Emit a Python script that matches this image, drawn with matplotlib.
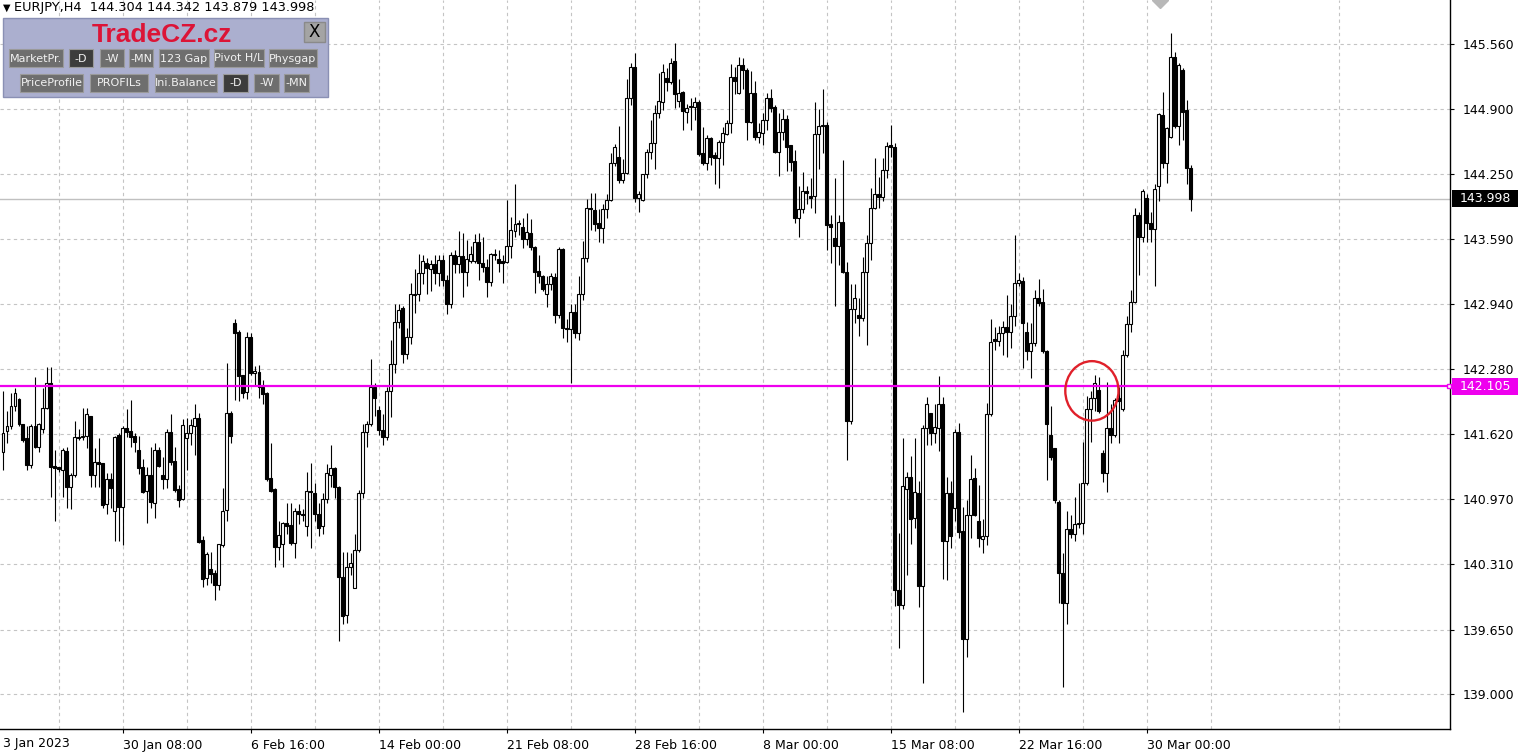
import numpy as np
import matplotlib
matplotlib.use("Agg")
import matplotlib.pyplot as plt
import matplotlib.transforms as mtransforms
from matplotlib.patches import Rectangle, Ellipse

# EURJPY H4 bars, oldest first
symbol = "EURJPY,H4"
opens = [
    141.44, 141.66, 141.71, 141.91, 141.98, 141.73, 141.58, 141.31, 141.71, 141.49,
    141.68, 141.89, 142.14, 141.30, 141.29, 141.26, 141.45, 141.09, 141.21, 141.59,
    141.59, 141.60, 141.81, 141.21, 141.34, 141.33, 140.92, 141.17, 140.85, 141.61,
    140.89, 141.69, 141.66, 141.60, 141.46, 141.29, 141.05, 141.21, 140.93, 141.46,
    141.21, 141.17, 141.65, 141.35, 141.07, 140.97, 141.58, 141.63, 141.71, 141.79,
    140.56, 140.17, 140.26, 140.22, 140.10, 140.50, 140.86, 141.84, 142.74, 142.65,
    142.22, 142.05, 142.60, 142.24, 142.25, 142.10, 142.04, 141.18, 141.07, 140.48,
    140.52, 140.73, 140.71, 140.53, 140.85, 140.82, 140.70, 141.05, 141.03, 140.82,
    140.70, 140.97, 141.21, 141.28, 141.09, 140.18, 139.80, 140.28, 140.07, 140.45,
    141.03, 141.65, 141.73, 142.10, 141.87, 141.67, 141.59, 142.06, 142.33, 142.75,
    142.90, 142.43, 142.60, 143.03, 143.04, 143.25, 143.35, 143.29, 143.34, 143.25,
    143.38, 143.18, 142.94, 143.43, 143.34, 143.42, 143.26, 143.37, 143.37, 143.56,
    143.35, 143.31, 143.16, 143.44, 143.39, 143.37, 143.36, 143.52, 143.67, 143.75,
    143.71, 143.59, 143.65, 143.51, 143.27, 143.22, 143.04, 143.14, 143.21, 142.83,
    143.49, 142.69, 142.68, 142.86, 142.64, 143.04, 143.40, 143.91, 143.89, 143.75,
    143.70, 143.90, 143.99, 144.36, 144.42, 144.19, 144.26, 145.02, 145.33, 144.01,
    143.99, 144.25, 144.47, 144.56, 144.86, 144.97, 145.22, 145.18, 145.39, 144.98,
    145.08, 144.87, 144.93, 144.92, 144.97, 144.46, 144.36, 144.61, 144.44, 144.41,
    144.57, 144.65, 144.76, 145.23, 145.07, 145.35, 145.30, 144.77, 145.07, 144.62,
    144.66, 144.79, 145.02, 144.92, 144.47, 144.67, 144.80, 144.54, 144.38, 143.80,
    143.90, 144.08, 144.03, 144.03, 144.65, 144.73, 144.74, 143.74, 143.60, 143.52,
    143.76, 143.26, 141.76, 142.89, 142.83, 142.80, 143.26, 143.55, 143.91, 144.05,
    144.02, 144.29, 144.54, 144.52, 140.05, 139.90, 141.07, 141.19, 140.78, 141.03,
    140.09, 141.69, 141.84, 141.63, 141.69, 141.93, 140.55, 141.03, 140.88, 141.65,
    140.65, 139.56, 140.81, 141.18, 140.75, 140.57, 140.60, 141.83, 142.58, 142.56,
    142.64, 142.70, 142.65, 142.82, 143.15, 143.17, 142.65, 142.46, 142.54, 143.00,
    142.96, 142.46, 141.61, 141.48, 140.94, 140.22, 139.92, 140.67, 140.62, 140.72,
    140.73, 141.13, 141.88, 141.99, 142.07, 141.43, 141.23, 141.69, 141.61, 141.99,
    141.88, 142.42, 142.73, 142.96, 143.83, 143.61, 144.01, 143.75, 143.69, 144.13,
    144.84, 144.36, 144.62, 145.43, 144.73, 145.30, 144.89, 144.304,
]
highs = [
    142.06, 141.86, 142.04, 142.09, 141.99, 141.73, 141.71, 141.73, 142.20, 141.74,
    142.09, 142.30, 142.30, 141.46, 141.29, 141.48, 141.49, 141.23, 141.76, 141.68,
    141.89, 141.89, 141.81, 141.48, 141.58, 141.33, 141.23, 141.23, 141.60, 141.63,
    141.71, 141.88, 141.97, 141.63, 141.60, 141.37, 141.29, 141.49, 141.53, 141.49,
    141.39, 141.68, 141.83, 141.49, 141.11, 141.78, 141.79, 141.78, 141.93, 141.84,
    140.60, 140.43, 140.43, 140.25, 140.52, 141.08, 142.34, 141.86, 142.79, 142.67,
    142.22, 142.65, 142.64, 142.31, 142.32, 142.17, 142.05, 141.53, 141.08, 140.75,
    140.74, 140.93, 140.93, 140.88, 140.92, 140.87, 141.24, 141.33, 141.13, 140.93,
    141.03, 141.32, 141.51, 141.29, 141.10, 140.43, 140.43, 140.42, 140.62, 141.06,
    141.73, 141.76, 142.38, 142.14, 141.91, 141.83, 142.10, 142.57, 142.94, 142.94,
    142.92, 142.69, 143.15, 143.29, 143.44, 143.43, 143.40, 143.38, 143.43, 143.43,
    143.43, 143.23, 143.46, 143.48, 143.67, 143.65, 143.58, 143.52, 143.64, 143.65,
    143.61, 143.39, 143.45, 143.49, 143.48, 143.43, 143.99, 143.81, 144.15, 143.78,
    143.80, 143.85, 143.79, 143.52, 143.43, 143.23, 143.22, 143.25, 143.25, 143.51,
    143.50, 142.79, 142.94, 142.94, 143.22, 143.57, 144.00, 144.06, 144.06, 143.90,
    143.95, 144.05, 144.46, 144.55, 144.73, 144.40, 145.21, 145.37, 145.47, 144.08,
    144.25, 144.50, 144.79, 144.94, 145.27, 145.36, 145.32, 145.42, 145.57, 145.21,
    145.09, 144.95, 145.02, 145.03, 144.99, 144.72, 144.64, 144.62, 144.47, 144.59,
    144.72, 144.79, 145.36, 145.33, 145.43, 145.42, 145.32, 145.29, 145.19, 144.76,
    144.86, 145.07, 145.11, 144.94, 144.86, 144.90, 144.84, 144.54, 144.49, 144.13,
    144.27, 144.13, 144.21, 144.97, 144.90, 145.11, 144.77, 143.83, 144.21, 143.83,
    144.39, 143.36, 143.14, 143.14, 143.00, 143.41, 143.63, 144.11, 144.41, 144.22,
    144.41, 144.57, 144.74, 144.56, 140.63, 141.58, 141.24, 141.40, 141.58, 141.15,
    141.72, 142.00, 141.84, 141.93, 142.21, 142.00, 141.19, 141.15, 141.68, 141.74,
    140.89, 140.96, 141.41, 141.28, 141.11, 140.77, 141.94, 142.79, 142.70, 142.71,
    142.77, 143.03, 142.94, 143.63, 143.25, 143.21, 142.75, 142.74, 143.08, 143.19,
    143.09, 142.47, 141.91, 141.48, 140.96, 140.42, 140.85, 140.81, 140.99, 141.13,
    141.54, 142.01, 142.06, 142.22, 142.20, 141.46, 142.15, 141.93, 141.99, 142.10,
    142.47, 142.82, 143.08, 143.91, 143.86, 144.10, 144.05, 143.86, 144.15, 144.86,
    145.08, 144.72, 145.67, 145.48, 145.37, 145.32, 145.00, 144.342,
]
lows = [
    141.26, 141.53, 141.68, 141.86, 141.71, 141.54, 141.26, 141.28, 141.48, 141.44,
    141.64, 141.88, 140.99, 140.75, 141.24, 140.99, 140.88, 140.87, 141.19, 141.56,
    141.56, 141.48, 141.09, 141.09, 141.09, 140.88, 140.82, 140.88, 140.55, 140.55,
    140.50, 141.59, 141.49, 141.44, 141.22, 141.03, 140.73, 140.88, 140.78, 141.29,
    141.07, 141.08, 141.31, 141.04, 140.89, 140.96, 141.26, 141.51, 141.41, 140.53,
    140.08, 140.10, 140.12, 139.95, 140.05, 140.48, 140.75, 141.53, 141.97, 141.96,
    141.99, 141.98, 142.22, 142.12, 141.99, 141.93, 141.15, 141.04, 140.28, 140.35,
    140.28, 140.62, 140.50, 140.37, 140.72, 140.75, 140.60, 140.47, 140.75, 140.60,
    140.62, 140.93, 141.09, 140.98, 139.54, 139.71, 139.72, 140.20, 140.07, 140.43,
    140.98, 141.49, 141.71, 141.81, 141.61, 141.51, 141.56, 141.80, 142.24, 142.69,
    142.34, 142.38, 142.53, 142.85, 142.97, 143.14, 143.04, 143.07, 143.14, 143.12,
    143.12, 142.84, 142.90, 143.25, 143.25, 143.01, 143.12, 143.35, 143.35, 143.18,
    143.26, 143.01, 143.12, 143.38, 143.26, 143.15, 143.35, 143.40, 143.61, 143.63,
    143.50, 143.53, 143.48, 143.05, 143.15, 143.07, 142.91, 143.08, 142.74, 142.80,
    142.59, 142.55, 142.14, 142.59, 142.57, 142.98, 143.36, 143.68, 143.67, 143.56,
    143.55, 143.80, 143.98, 144.33, 144.16, 144.16, 144.25, 144.94, 143.97, 143.86,
    143.98, 144.21, 144.40, 144.30, 144.81, 144.89, 145.09, 145.16, 144.91, 144.92,
    144.69, 144.76, 144.69, 144.79, 144.43, 144.34, 144.29, 144.34, 144.15, 144.11,
    144.34, 144.64, 144.66, 145.06, 145.06, 145.11, 144.59, 144.76, 144.59, 144.56,
    144.54, 144.69, 144.87, 144.46, 144.23, 144.59, 144.28, 144.28, 143.75, 143.61,
    143.85, 143.95, 143.91, 143.85, 144.30, 144.46, 143.48, 143.35, 142.92, 143.33,
    143.25, 141.36, 141.73, 142.74, 142.61, 142.77, 142.52, 143.38, 143.90, 143.91,
    143.98, 144.21, 144.42, 139.89, 139.47, 139.86, 140.20, 140.51, 140.68, 139.88,
    139.11, 141.51, 141.51, 141.53, 141.45, 140.16, 140.15, 140.47, 140.75, 140.58,
    138.82, 139.37, 140.58, 140.80, 140.48, 140.42, 140.50, 141.81, 142.47, 142.51,
    142.42, 142.40, 142.49, 142.71, 143.12, 142.29, 142.37, 142.19, 142.51, 142.92,
    142.44, 141.16, 141.36, 140.93, 139.92, 139.07, 139.71, 140.58, 140.55, 140.68,
    140.62, 141.11, 141.54, 141.86, 141.84, 141.14, 141.04, 141.53, 141.59, 141.53,
    141.86, 142.40, 142.65, 142.95, 143.23, 143.56, 143.56, 143.56, 143.12, 143.98,
    144.31, 144.16, 144.61, 144.71, 144.54, 144.59, 144.15, 143.879,
]
closes = [
    141.64, 141.71, 141.91, 142.04, 141.73, 141.56, 141.31, 141.71, 141.49, 141.73,
    141.89, 142.14, 141.29, 141.28, 141.27, 141.46, 141.09, 141.21, 141.59, 141.58,
    141.60, 141.83, 141.21, 141.34, 141.32, 140.91, 141.17, 141.08, 141.59, 140.89,
    141.69, 141.65, 141.59, 141.54, 141.28, 141.04, 141.21, 140.94, 141.46, 141.30,
    141.17, 141.65, 141.34, 141.06, 140.96, 141.72, 141.63, 141.72, 141.79, 140.54,
    140.16, 140.41, 140.21, 140.10, 140.51, 140.85, 141.84, 141.60, 142.64, 142.21,
    142.04, 142.60, 142.24, 142.26, 142.10, 142.03, 141.17, 141.05, 140.48, 140.61,
    140.73, 140.70, 140.53, 140.85, 140.82, 140.81, 141.05, 141.04, 140.82, 140.68,
    140.97, 141.23, 141.28, 141.09, 140.18, 139.79, 140.28, 140.32, 140.45, 141.03,
    141.65, 141.73, 142.10, 141.99, 141.67, 141.59, 142.06, 142.33, 142.75, 142.88,
    142.43, 142.60, 143.04, 143.04, 143.25, 143.37, 143.30, 143.34, 143.25, 143.38,
    143.18, 142.94, 143.43, 143.34, 143.42, 143.26, 143.39, 143.44, 143.56, 143.35,
    143.31, 143.16, 143.44, 143.43, 143.35, 143.35, 143.52, 143.68, 143.74, 143.74,
    143.59, 143.66, 143.51, 143.26, 143.22, 143.09, 143.14, 143.22, 142.83, 143.49,
    142.69, 142.68, 142.86, 142.64, 143.04, 143.40, 143.91, 143.90, 143.74, 143.70,
    143.90, 143.99, 144.36, 144.52, 144.19, 144.26, 145.02, 145.33, 144.01, 144.05,
    144.25, 144.47, 144.56, 144.86, 144.98, 145.28, 145.18, 145.37, 145.06, 145.07,
    144.88, 144.91, 144.92, 144.97, 144.45, 144.36, 144.61, 144.42, 144.41, 144.57,
    144.66, 144.76, 145.23, 145.19, 145.35, 145.30, 144.77, 145.07, 144.62, 144.67,
    144.79, 145.02, 144.91, 144.47, 144.67, 144.80, 144.52, 144.37, 143.80, 143.90,
    144.08, 144.06, 144.01, 144.65, 144.73, 144.74, 143.73, 143.71, 143.52, 143.76,
    143.26, 141.76, 142.89, 143.00, 142.80, 143.26, 143.55, 143.91, 144.05, 144.02,
    144.29, 144.53, 144.52, 140.05, 139.90, 141.10, 141.19, 140.77, 141.04, 140.09,
    141.69, 141.93, 141.63, 141.70, 141.93, 140.55, 141.03, 140.60, 141.65, 140.64,
    139.56, 140.81, 141.17, 140.81, 140.58, 140.60, 141.83, 142.55, 142.56, 142.64,
    142.70, 142.65, 142.82, 143.15, 143.18, 142.74, 142.46, 142.54, 143.00, 142.95,
    142.46, 141.73, 141.39, 140.96, 140.22, 139.92, 140.67, 140.62, 140.72, 140.73,
    141.13, 141.88, 141.99, 142.14, 141.86, 141.23, 141.69, 141.61, 141.97, 141.96,
    142.42, 142.73, 142.96, 143.83, 143.61, 144.08, 143.75, 143.69, 144.10, 144.85,
    144.36, 144.71, 145.43, 144.73, 145.35, 144.87, 144.31, 143.998,
]

price_ticks = [139.000, 139.650, 140.310, 140.970, 141.620, 142.280,
               142.940, 143.590, 144.250, 144.900, 145.560]
date_bars = [30, 62, 94, 126, 158, 190, 222, 254, 286]
date_labels = ["30 Jan 08:00", "6 Feb 16:00", "14 Feb 00:00", "21 Feb 08:00",
               "28 Feb 16:00", "8 Mar 00:00", "15 Mar 08:00", "22 Mar 16:00",
               "30 Mar 00:00"]
first_label = "3 Jan 2023"
level_price = 142.105
circle_bar, circle_price = 272.3, 142.06

row1_buttons = ["MarketPr.", "-D", "-W", "-MN", "123 Gap", "Pivot H/L", "Physgap"]
row2_buttons = ["PriceProfile", "PROFILs", "Ini.Balance", "-D", "-W", "-MN"]

o = np.array(opens); h = np.array(highs); l = np.array(lows); c = np.array(closes)
assert len(o) == len(h) == len(l) == len(c)
x = np.arange(len(c))

W, H = 1524, 755
plt.rcParams['font.family'] = ['DejaVu Sans']
fig = plt.figure(figsize=(W / 100, H / 100), dpi=100)
fig.patch.set_facecolor('white')
ax = fig.add_axes([0, 26 / H, 1450 / W, 729 / H])

# one bar = 4 px, 1 px = 0.01009 price units
ax.set_xlim(-0.675, 361.825)
ax.set_ylim(146.004 - 0.01009 * 729, 146.004)

# candles
ax.vlines(x, l, h, color='black', linewidth=0.8, zorder=3)
up = c >= o
lo = np.minimum(o, c)
hgt = np.abs(c - o)
ax.bar(x[up], hgt[up], bottom=lo[up], width=0.6, color='white',
       edgecolor='black', linewidth=0.8, zorder=4)
ax.bar(x[~up], hgt[~up], bottom=lo[~up], width=0.6, color='black',
       edgecolor='black', linewidth=0.8, zorder=4)

# grid / axes
ax.set_yticks(price_ticks)
ax.set_yticklabels(["%.3f" % p for p in price_ticks], fontsize=9)
ax.yaxis.tick_right()
ax.tick_params(axis='y', length=3, width=0.8, pad=6, direction='out')
ax.set_xticks(date_bars)
ax.set_xticklabels(date_labels, fontsize=9, ha='left')
ax.set_xticks(np.arange(14, 362, 32), minor=True)
ax.tick_params(axis='x', which='major', length=3, width=0.8, pad=4)
ax.tick_params(axis='x', which='minor', length=0)
gstyle = dict(color='#c4c4c4', linestyle=(0, (3, 3)), linewidth=0.8)
ax.grid(True, axis='y', **gstyle)
ax.grid(True, axis='x', which='both', **gstyle)
ax.set_axisbelow(True)
for s in ['left', 'top']:
    ax.spines[s].set_visible(False)
for s in ['right', 'bottom']:
    ax.spines[s].set_linewidth(1.0)
ax.text(0.002, -0.011, first_label, transform=ax.transAxes, fontsize=9,
        ha='left', va='top')

# bid line and price labels
last = c[-1]
ax.axhline(last, color='#c0c0c0', linewidth=1.0, zorder=2)
ax.axhline(level_price, color='#ee00ee', linewidth=1.6, zorder=5)
ax.plot([ax.get_xlim()[1] - 0.3], [level_price], marker='s', ms=3.5,
        mfc='white', mec='#ee00ee', mew=1, clip_on=False, zorder=6)
blend = mtransforms.blended_transform_factory(ax.transAxes, ax.transData)
box_h = 17 * 0.01009
for price, face in [(last, 'black'), (level_price, '#ee00ee')]:
    ax.add_patch(Rectangle((1.0014, price - box_h / 2), 0.0455, box_h,
                           transform=blend, facecolor=face, edgecolor='none',
                           clip_on=False, zorder=6))
    ax.text(1.0245, price, "%.3f" % price, transform=blend, color='white',
            fontsize=9, ha='center', va='center', zorder=7, clip_on=False)

# red circle around the retest
ax.add_patch(Ellipse((circle_bar, circle_price), 13.3, 0.60, fill=False,
                     edgecolor='#e0202a', linewidth=1.7, zorder=6))
# grey marker cut at the top edge
ax.plot([289.3], [146.004], marker='D', ms=8, color='#b8b8b8', zorder=6)

# overlay in pixel coordinates: header + TradeCZ panel
ov = fig.add_axes([0, 0, 1, 1], zorder=10)
ov.set_xlim(0, W)
ov.set_ylim(H, 0)
ov.axis('off')
ov.patch.set_alpha(0)
ov.text(3, 8, "\u25bc", fontsize=7, va='center', ha='left')
ov.text(14, 8, "%s  %.3f %.3f %.3f %.3f" % (symbol, o[-1], h[-1], l[-1], c[-1]),
        fontsize=9.3, va='center', ha='left')
ov.add_patch(Rectangle((3, 18), 325, 79, facecolor='#abafcf',
                       edgecolor='#8a90b4', linewidth=1))
ov.text(162, 35, "TradeCZ.cz", fontsize=19, fontweight='bold', color='#dc1437',
        family='Liberation Sans', ha='center', va='center')
ov.add_patch(Rectangle((304, 22), 21, 20, facecolor='#a4a4a4',
                       edgecolor='#8a8a8a', linewidth=1))
ov.text(314.5, 32, "X", fontsize=12, ha='center', va='center', color='black')

row1_x = [(9, 63), (69, 93), (100, 124), (129, 153), (159, 209), (214, 264), (269, 317)]
row2_x = [(20, 83), (90, 148), (155, 217), (223, 248), (254, 279), (284, 309)]
for names, xs, y0 in [(row1_buttons, row1_x, 49), (row2_buttons, row2_x, 74)]:
    for name, (x0, x1) in zip(names, xs):
        face = '#3c3c3c' if name == '-D' else '#6e6e6e'
        ov.add_patch(Rectangle((x0, y0), x1 - x0, 18, facecolor=face,
                               edgecolor='#9a9a9a', linewidth=0.8))
        ov.text((x0 + x1) / 2, y0 + 9.5, name, fontsize=8, color='#f2f2f2',
                ha='center', va='center')

fig.savefig("out.png", dpi=100, facecolor='white')
